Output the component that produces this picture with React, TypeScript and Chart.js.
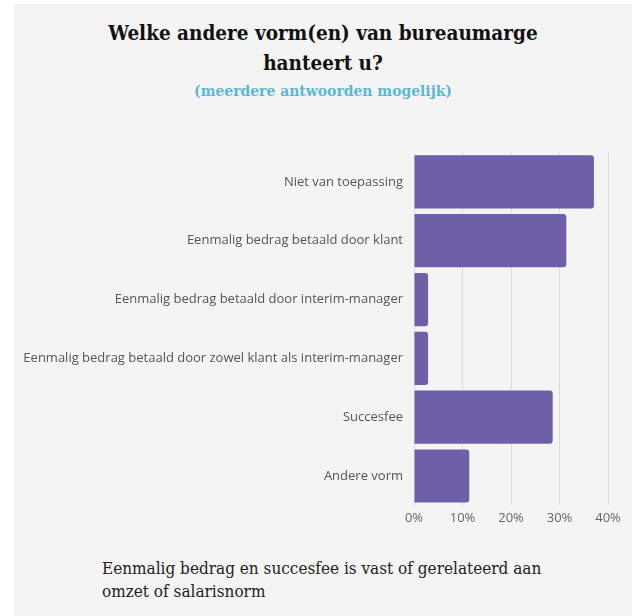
import React, { useEffect, useRef } from "react";
import { Chart, registerables } from "chart.js";

Chart.register(...registerables);

const categories = [
  "Niet van toepassing",
  "Eenmalig bedrag betaald door klant",
  "Eenmalig bedrag betaald door interim-manager",
  "Eenmalig bedrag betaald door zowel klant als interim-manager",
  "Succesfee",
  "Andere vorm",
];
const values = [37.1, 31.4, 2.9, 2.9, 28.6, 11.4];
const xTicks = [0, 10, 20, 30, 40];

const titleLines = ["Welke andere vorm(en) van bureaumarge", "hanteert u?"];
const subtitle = "(meerdere antwoorden mogelijk)";
const footerLines = [
  "Eenmalig bedrag en succesfee is vast of gerelateerd aan",
  "omzet of salarisnorm",
];

const slab = '"DejaVu Serif Condensed", "DejaVu Serif", serif';

export default function App() {
  const ref = useRef<HTMLCanvasElement | null>(null);
  useEffect(() => {
    if (!ref.current) return;
    const chart = new Chart(ref.current, {
      type: "bar",
      data: {
        labels: categories,
        datasets: [
          {
            data: values,
            backgroundColor: "#6f5fa8",
            borderColor: "#7a6bb0",
            borderWidth: 0,
            borderRadius: 3,
            borderSkipped: "start",
            barPercentage: 0.905,
            categoryPercentage: 1,
          },
        ],
      },
      options: {
        indexAxis: "y",
        animation: false,
        responsive: false,
        maintainAspectRatio: false,
        layout: { padding: { top: 12.5, right: 23, bottom: 6, left: 0 } },
        plugins: { legend: { display: false }, tooltip: { enabled: false } },
        scales: {
          x: {
            min: 0,
            max: 40,
            afterBuildTicks: (s: any) => {
              s.ticks = xTicks.map((v) => ({ value: v }));
            },
            grid: { color: "#dcdcdc", drawTicks: false, lineWidth: 1 },
            border: { display: false },
            ticks: {
              padding: 5,
              color: "#666",
              font: { family: '"Open Sans", sans-serif', size: 13 },
              callback: (v: any) => v + "%",
            },
          },
          y: {
            grid: { display: false, drawTicks: false },
            border: { display: false },
            afterFit: (s: any) => {
              s.width = 401;
              s.paddingTop = 0;
              s.paddingBottom = 0;
            },
            ticks: {
              padding: 11,
              color: "#555",
              font: { family: '"Open Sans", sans-serif', size: 13 },
            },
          },
        },
      },
    });
    return () => chart.destroy();
  }, []);

  return (
    <div
      style={{
        position: "absolute",
        left: 14,
        top: 4,
        width: 618,
        height: 612,
        background: "#f4f4f4",
      }}
    >
      <div
        style={{
          position: "absolute",
          left: 0,
          top: 14,
          width: 618,
          textAlign: "center",
          fontFamily: slab,
          fontWeight: "bold",
          fontSize: 20.5,
          lineHeight: "30px",
          color: "#111",
        }}
      >
        {titleLines.map((l, i) => (
          <div key={i}>{l}</div>
        ))}
        <div
          style={{
            fontSize: 15.5,
            lineHeight: "22px",
            color: "#5cb8d2",
            marginTop: 2,
          }}
        >
          {subtitle}
        </div>
      </div>
      <canvas
        ref={ref}
        width={618}
        height={397}
        style={{ position: "absolute", left: -1, top: 136, width: 618, height: 397 }}
      />
      <div
        style={{
          position: "absolute",
          left: 88,
          top: 553,
          fontFamily: slab,
          fontSize: 17,
          lineHeight: "23px",
          color: "#222",
        }}
      >
        {footerLines.map((l, i) => (
          <div key={i}>{l}</div>
        ))}
      </div>
    </div>
  );
}
